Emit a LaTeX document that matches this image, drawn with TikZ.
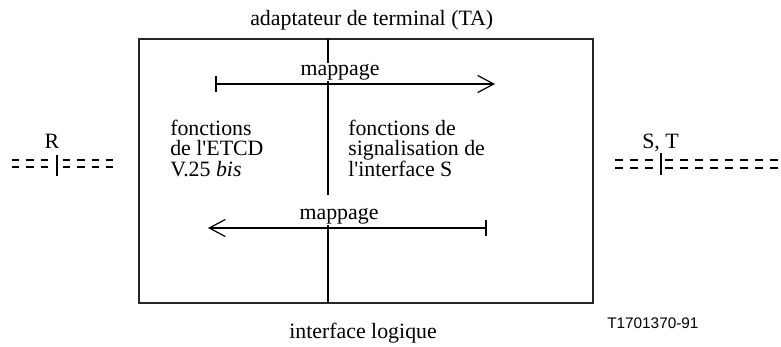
\documentclass[tikz,border=0pt]{standalone}
\usepackage{fontspec}
\setmainfont{Liberation Serif}
\newfontfamily\labelsans{Liberation Sans}
\usetikzlibrary{arrows.meta}
\begin{document}
\begin{tikzpicture}[x=0.75pt,y=-0.75pt,
  txt/.style={font=\fontsize{16.4}{15.4}\selectfont, inner sep=0pt, align=left},
  boxline/.style={line width=1.1pt, draw=black!85},
  midline/.style={line width=1.5pt},
  arr/.style={line width=1.15pt},
  lbl/.style={txt, fill=white, inner sep=0.75pt},
  ddash/.style={line width=1.5pt, dash pattern=on 5.6pt off 5.1pt},
  ddashb/.style={line width=1.5pt, dash pattern=on 6pt off 5.25pt},
  bar/.style={line width=1.8pt},
  tips/.style={{Bar[width=12pt,line width=1.5pt]}-{Straight Barb[length=12pt,width=12.75pt,line width=0.9pt]}}]
\useasboundingbox (0,0) rectangle (781,346);
% box
\coordinate (boxNW) at (139,39);
\coordinate (boxSE) at (593,303);
\draw[boxline] (boxNW) rectangle (boxSE);
% vertical divider
\coordinate (vTop) at (328,39);
\coordinate (vMid1) at (328,195);
\coordinate (vMid2) at (328,223);
\coordinate (vBot) at (328,303);
\draw[midline] (vTop) -- (vMid1);
\draw[midline] (vMid2) -- (vBot);
% title and bottom label
\node[txt, anchor=base west] (title) at (250,26) {adaptateur de terminal (TA)};
\node[txt, anchor=base west] (ilog) at (289,338) {interface logique};
% top arrow
\coordinate (a1s) at (215,84);
\coordinate (a1e) at (495,84);
\draw[arr, tips] (a1s) -- (a1e);
\node[lbl, anchor=base] (map1) at (340,75) {mappage};
% bottom arrow
\coordinate (a2s) at (487,228);
\coordinate (a2e) at (208,228);
\draw[arr, tips] (a2s) -- (a2e);
\node[lbl, anchor=base] (map2) at (339,219) {mappage};
% function texts
\node[txt, anchor=base west] (left1) at (170,135) {fonctions};
\node[txt, anchor=base west] (left2) at (170,155.5) {de l\textquotesingle ETCD};
\node[txt, anchor=base west] (left3) at (170,176) {V.25 \textit{bis}};
\node[txt, anchor=base west] (right1) at (348,135) {fonctions de};
\node[txt, anchor=base west] (right2) at (348,155.5) {signalisation de};
\node[txt, anchor=base west] (right3) at (348,176) {l\textquotesingle interface S};
% left reference point R
\node[txt, anchor=base] (R) at (52,148) {R};
\coordinate (rl1) at (12,159.5); \coordinate (rl1e) at (52,159.5);
\coordinate (rl2) at (12,166.5); \coordinate (rl2e) at (52,166.5);
\coordinate (rr1) at (63,159.5); \coordinate (rr1e) at (118,159.5);
\coordinate (rr2) at (63,166.5); \coordinate (rr2e) at (118,166.5);
\draw[ddash] (rl1) -- (rl1e);
\draw[ddash] (rl2) -- (rl2e);
\draw[ddash] (rr1) -- (rr1e);
\draw[ddash] (rr2) -- (rr2e);
\coordinate (rbT) at (57,155); \coordinate (rbB) at (57,176);
\draw[bar] (rbT) -- (rbB);
% right reference point S, T
\node[txt, anchor=base west] (ST) at (642,148) {S, T};
\coordinate (sl1) at (615,160); \coordinate (sl1e) at (656,160);
\coordinate (sl2) at (615,167.5); \coordinate (sl2e) at (656,167.5);
\coordinate (sr1) at (665,160); \coordinate (sr1e) at (781,160);
\coordinate (sr2) at (665,167.5); \coordinate (sr2e) at (781,167.5);
\draw[ddashb] (sl1) -- (sl1e);
\draw[ddashb] (sl2) -- (sl2e);
\draw[ddashb] (sr1) -- (sr1e);
\draw[ddashb] (sr2) -- (sr2e);
\coordinate (sbT) at (661,153); \coordinate (sbB) at (661,175);
\draw[bar] (sbT) -- (sbB);
% figure number
\node[anchor=base west, inner sep=0pt, font=\labelsans\fontsize{11.5}{13}\selectfont] (fig) at (607,328) {T1701370-91};
\end{tikzpicture}
\end{document}
